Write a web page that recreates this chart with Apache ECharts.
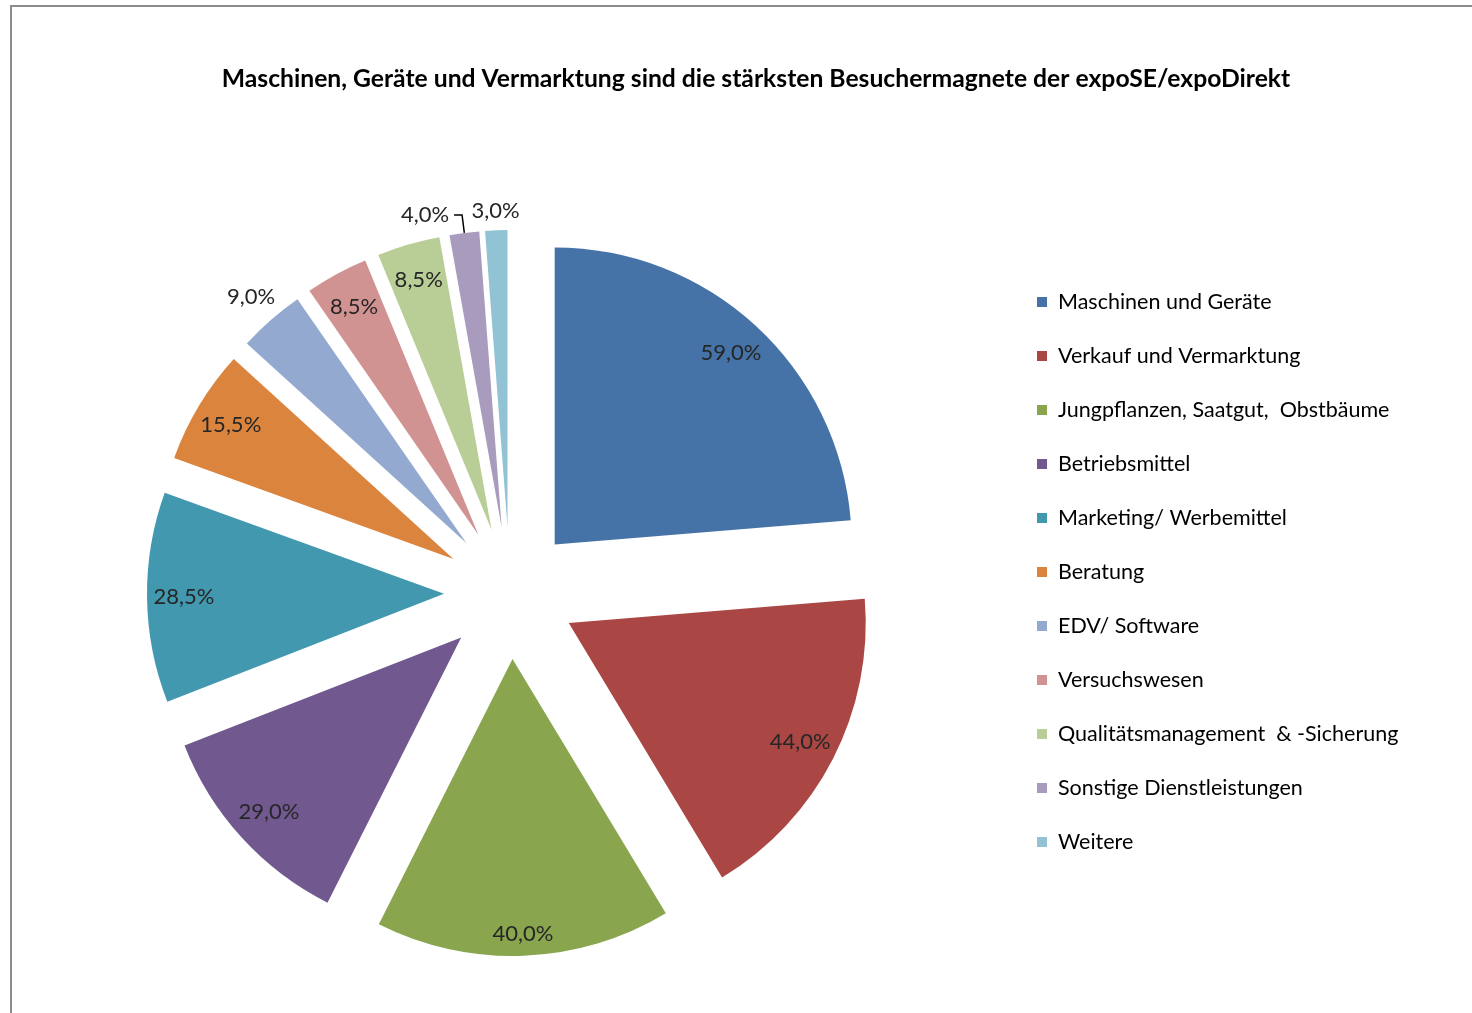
<!DOCTYPE html>
<html>
<head>
<meta charset="utf-8">
<script src="https://cdn.jsdelivr.net/npm/echarts@6/dist/echarts.min.js"></script>
<style>
  html, body { margin: 0; padding: 0; background: #fff; }
  #chart { position: absolute; left: 0; top: 0; width: 1472px; height: 1013px; }
  .frame {
    position: absolute; left: 10px; top: 5px; width: 1480px; height: 1030px;
    border: 2px solid #8c8c8c; pointer-events: none;
  }
</style>
</head>
<body>
<div id="chart"></div>
<div class="frame"></div>
<script>
const titleText = 'Maschinen, Geräte und Vermarktung sind die stärksten Besuchermagnete der expoSE/expoDirekt'

const categories = [
  'Maschinen und Geräte',
  'Verkauf und Vermarktung',
  'Jungpflanzen, Saatgut,  Obstbäume',
  'Betriebsmittel',
  'Marketing/ Werbemittel',
  'Beratung',
  'EDV/ Software',
  'Versuchswesen',
  'Qualitätsmanagement  & -Sicherung',
  'Sonstige Dienstleistungen',
  'Weitere'
]
const values = [59.0, 44.0, 40.0, 29.0, 28.5, 15.5, 9.0, 8.5, 8.5, 4.0, 3.0]
const colors = ['#4572A7', '#AA4643', '#89A54E', '#71588F', '#4198AF', '#DB843D',
  '#93A9CF', '#D19392', '#B9CD96', '#A99BBD', '#92C3D4']

// label rings: [inner, outer] radius of an invisible pie, label sits in the middle
const labelRings = [
  { radius: [217, 297], items: [0, 1, 3, 4, 5, 7, 8] },
  { radius: [247, 297], items: [2] },
  { radius: [297, 351], items: [6] },
  { radius: [297, 329], items: [10] }
]
// this one gets a leader line
const leaderLabels = [9]

const fmt = v => v.toFixed(1).replace('.', ',') + '%'
const labelColor = '#262626'
const font = 'Lato, "Open Sans", sans-serif'

const center = [510, 593]
const offset = 66

const chart = echarts.init(document.getElementById('chart'))

const buildData = showIdx => categories.map((name, i) => ({
  name,
  value: values[i],
  selected: true,
  label: { show: showIdx.includes(i) },
  labelLine: { show: showIdx.includes(i) }
}))

const labelSeries = ring => ({
  type: 'pie',
  center,
  radius: ring.radius,
  startAngle: 90,
  clockwise: true,
  silent: true,
  selectedMode: 'multiple',
  selectedOffset: offset,
  avoidLabelOverlap: false,
  itemStyle: { color: 'rgba(0,0,0,0)' },
  emphasis: { disabled: true },
  label: {
    position: 'inside',
    formatter: p => fmt(p.value),
    color: labelColor,
    fontFamily: font,
    fontSize: 22
  },
  data: buildData(ring.items)
})

chart.setOption({
  animation: false,
  title: {
    text: titleText,
    left: 751,
    top: 62,
    textAlign: 'center',
    textStyle: { fontFamily: font, fontSize: 24.7, fontWeight: 'bold', color: '#000' }
  },
  legend: {
    orient: 'vertical',
    left: 1037,
    top: 290,
    padding: 0,
    icon: 'rect',
    itemWidth: 10,
    itemHeight: 10,
    itemGap: 30,
    data: categories,
    textStyle: {
      fontFamily: font,
      fontSize: 21.5,
      lineHeight: 24,
      color: '#000',
      padding: [0, 0, 0, 6]
    }
  },
  series: [
    {
      type: 'pie',
      center,
      radius: 297,
      startAngle: 90,
      clockwise: true,
      selectedMode: 'multiple',
      selectedOffset: offset,
      avoidLabelOverlap: false,
      emphasis: { disabled: true },
      color: colors,
      label: {
        position: 'outside',
        formatter: p => fmt(p.value),
        color: labelColor,
        fontFamily: font,
        fontSize: 22,
        distanceToLabelLine: 5
      },
      labelLine: { length: 18, length2: 8, lineStyle: { color: '#000', width: 1.5 } },
      data: buildData(leaderLabels)
    },
    ...labelRings.map(labelSeries)
  ]
})
</script>
</body>
</html>
